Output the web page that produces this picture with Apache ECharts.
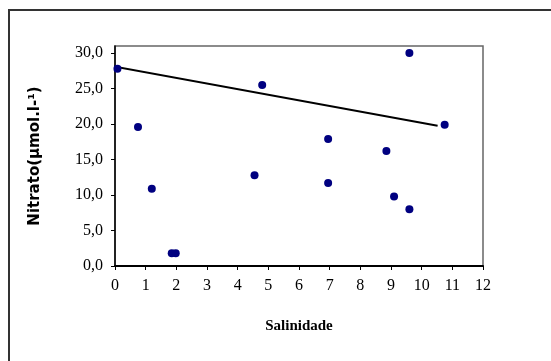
<!DOCTYPE html>
<html>
<head>
<meta charset="utf-8">
<script src="https://cdn.jsdelivr.net/npm/echarts@6/dist/echarts.min.js"></script>
<style>
  html, body { margin: 0; padding: 0; background: #ffffff; }
  #chart { width: 551px; height: 361px; }
</style>
</head>
<body>
<div id="chart"></div>
<script>
// Salinity (x) vs nitrate (y) sampling stations
const salinidade = [0.08, 0.75, 1.2, 1.85, 1.98, 4.55, 4.8, 6.95, 6.95, 8.85, 9.1, 9.6, 9.6, 10.75];
const nitrato    = [27.8, 19.6, 10.9, 1.8, 1.8, 12.8, 25.5, 17.9, 11.7, 16.2, 9.8, 30.0, 8.0, 19.9];

// Straight reference line drawn across the scatter
const linhaX = [-0.07, 10.52];
const linhaY = [28.15, 19.76];

// Tick values shown on each axis
const xTicks = [0, 1, 2, 3, 4, 5, 6, 7, 8, 9, 10, 11, 12];
const yTicks = [0, 5, 10, 15, 20, 25, 30];

const pontos = salinidade.map((x, i) => [x, nitrato[i]]);
const linha = linhaX.map((x, i) => [x, linhaY[i]]);

const chart = echarts.init(document.getElementById('chart'), null, { renderer: 'canvas' });

const serif = '"Liberation Serif", "Times New Roman", serif';

chart.setOption({
  animation: false,
  backgroundColor: '#ffffff',
  graphic: [{
    type: 'rect',
    shape: { x: 9, y: 10, width: 620, height: 420 },
    style: { fill: 'none', stroke: '#333333', lineWidth: 2 },
    silent: true,
    z: 100
  }],
  grid: {
    left: 115, right: 68, top: 46, bottom: 95,
    show: true,
    borderColor: '#666666',
    borderWidth: 1.5,
    backgroundColor: '#ffffff'
  },
  xAxis: {
    type: 'value',
    min: 0, max: 12, interval: 1,
    name: 'Salinidade',
    nameLocation: 'middle',
    nameGap: 53,
    nameTextStyle: { fontFamily: serif, fontWeight: 'bold', fontSize: 15, color: '#000000' },
    axisLine: { show: true, onZero: false, lineStyle: { color: '#000000', width: 2 } },
    axisTick: { show: true, length: 4, lineStyle: { color: '#000000', width: 1 }, customValues: xTicks },
    axisLabel: { margin: 12, fontFamily: serif, fontSize: 16, color: '#000000', customValues: xTicks },
    splitLine: { show: false }
  },
  yAxis: {
    type: 'value',
    min: 0, max: 31, interval: 5,
    name: 'Nitrato(µmol.l-¹)',
    nameLocation: 'middle',
    nameGap: 72,
    nameRotate: 90,
    nameTextStyle: { fontFamily: '"DejaVu Sans", sans-serif', fontWeight: 'bold', fontSize: 15, color: '#000000' },
    axisLine: { show: true, onZero: false, lineStyle: { color: '#000000', width: 1.5 } },
    axisTick: { show: true, length: 4, lineStyle: { color: '#000000', width: 1 }, customValues: yTicks },
    axisLabel: {
      margin: 12, fontFamily: serif, fontSize: 16, color: '#000000',
      customValues: yTicks,
      formatter: v => v.toFixed(1).replace('.', ',')
    },
    splitLine: { show: false }
  },
  series: [
    {
      type: 'line',
      data: linha,
      clip: false,
      symbol: 'none',
      lineStyle: { color: '#000000', width: 2 },
      z: 2
    },
    {
      type: 'scatter',
      data: pontos,
      symbol: 'circle',
      symbolSize: 8,
      itemStyle: { color: '#000080', opacity: 1 },
      z: 3
    }
  ]
});
</script>
</body>
</html>
